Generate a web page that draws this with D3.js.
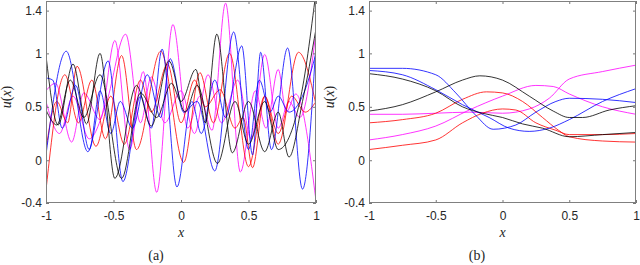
<!DOCTYPE html>
<html>
<head>
<meta charset="utf-8">
<script src="https://cdn.jsdelivr.net/npm/d3@7"></script>
<style>
  body{margin:0;background:#fff;}
  svg{display:block;}
  .tick text{font-family:"Liberation Sans",Arial,Helvetica,sans-serif;font-size:12px;fill:#262626;}
  .lab{font-family:"Liberation Serif","Times New Roman",serif;font-size:14px;fill:#262626;}
</style>
</head>
<body>
<script>
// tick values / labels
const xTicks = [-1,-0.5,0,0.5,1];
const xTickLabels = ["-1","-0.5","0","0.5","1"];
const yTicks = [-0.4,0,0.5,1,1.4];
const yTickLabels = ["-0.4","0","0.5","1","1.4"];

// panel (a): [x, u] at the turning points
const aBlack1 = [[-1,0.98],[-0.91,0.33],[-0.80,0.90],[-0.70,0.34],[-0.60,1.0],[-0.49,-0.17],[-0.33,0.70],[-0.22,0.32],[-0.09,0.93],[0.03,0.45],[0.12,0.70],[0.27,-0.03],[0.40,0.55],[0.50,0.15],[0.62,0.55],[0.72,0.10],[0.88,0.55],[1.0,1.58]];
const aBlack2 = [[-1,0.47],[-0.92,0.33],[-0.82,0.75],[-0.72,0.40],[-0.60,0.80],[-0.44,-0.17],[-0.30,0.63],[-0.18,0.40],[-0.07,0.72],[0.0,0.55],[0.11,0.85],[0.18,0.35],[0.265,1.18],[0.38,0.07],[0.50,0.55],[0.62,0.08],[0.72,0.45],[0.80,0.03],[0.90,0.55],[1.0,1.23]];
const aBlue1 = [[-1,0.05],[-0.85,1.02],[-0.69,0.08],[-0.54,0.93],[-0.43,-0.20],[-0.30,0.60],[-0.22,0.30],[-0.14,1.04],[-0.03,-0.25],[0.08,0.55],[0.15,0.25],[0.25,0.75],[0.33,0.40],[0.45,1.07],[0.53,0.05],[0.59,1.01],[0.67,0.10],[0.79,1.05],[0.90,-0.27],[1.0,1.10]];
const aBlue2 = [[-1,0.77],[-0.95,0.75],[-0.88,0.30],[-0.78,0.70],[-0.68,0.10],[-0.60,0.65],[-0.52,0.25],[-0.45,0.55],[-0.36,0.30],[-0.25,0.80],[-0.15,0.40],[-0.08,0.95],[0.02,0.45],[0.12,0.55],[0.25,-0.10],[0.39,1.20],[0.50,0.10],[0.58,0.75],[0.66,0.45],[0.72,0.60],[0.80,0.45],[0.90,0.60],[1.0,1.0]];
const aRed1 = [[-1,-0.28],[-0.86,0.80],[-0.76,0.35],[-0.66,0.75],[-0.56,0.20],[-0.44,0.98],[-0.33,0.10],[-0.15,1.02],[0.02,-0.02],[0.14,0.82],[0.24,0.35],[0.36,1.0],[0.50,-0.06],[0.62,0.60],[0.72,0.15],[0.87,1.01],[1.0,0.52]];
const aRed2 = [[-1,0.10],[-0.92,0.55],[-0.84,0.35],[-0.77,0.88],[-0.63,0.13],[-0.52,0.60],[-0.42,0.15],[-0.30,0.75],[-0.22,0.45],[-0.10,0.90],[0.0,0.35],[0.10,0.75],[0.18,0.50],[0.29,0.66],[0.40,0.30],[0.46,0.40],[0.53,-0.07],[0.62,0.60],[0.72,0.25],[0.82,0.60],[0.92,0.45],[1.0,0.55]];
const aMagenta1 = [[-1,0.65],[-0.93,0.72],[-0.81,0.17],[-0.72,0.63],[-0.60,0.38],[-0.49,1.12],[-0.38,0.10],[-0.28,0.83],[-0.18,-0.30],[-0.06,1.27],[0.05,0.30],[0.14,0.60],[0.23,0.28],[0.33,1.47],[0.44,-0.11],[0.55,0.65],[0.63,0.30],[0.72,0.85],[0.78,0.45],[0.85,0.62],[1.0,-0.38]];
const aMagenta2 = [[-1,0.55],[-0.90,0.25],[-0.80,0.60],[-0.68,0.20],[-0.55,0.55],[-0.41,1.18],[-0.30,0.35],[-0.22,0.78],[-0.12,0.35],[0.0,0.65],[0.10,0.25],[0.20,0.80],[0.30,0.35],[0.42,0.75],[0.52,0.20],[0.62,0.99],[0.72,0.30],[0.80,0.55],[0.88,0.40],[1.0,1.20]];

// panel (b)
const bBlack1 = [[-1,0.81],[-0.75,0.76],[-0.5,0.65],[-0.3,0.50],[-0.15,0.44],[0.0,0.40],[0.15,0.34],[0.3,0.30],[0.5,0.22],[0.75,0.24],[1.0,0.26]];
const bBlack2 = [[-1,0.46],[-0.75,0.52],[-0.5,0.64],[-0.3,0.75],[-0.17,0.79],[0.0,0.75],[0.2,0.60],[0.38,0.46],[0.5,0.40],[0.6,0.40],[0.8,0.47],[1.0,0.51]];
const bBlue1 = [[-1,0.86],[-0.75,0.86],[-0.5,0.80],[-0.35,0.63],[-0.2,0.42],[-0.07,0.29],[0.1,0.33],[0.25,0.45],[0.4,0.55],[0.5,0.58],[0.75,0.57],[1.0,0.54]];
const bBlue2 = [[-1,0.84],[-0.75,0.80],[-0.5,0.66],[-0.3,0.52],[-0.1,0.40],[0.05,0.30],[0.2,0.27],[0.35,0.30],[0.5,0.38],[0.75,0.55],[1.0,0.67]];
const bRed1 = [[-1,0.35],[-0.75,0.38],[-0.5,0.44],[-0.3,0.57],[-0.12,0.64],[0.0,0.63],[0.15,0.55],[0.3,0.40],[0.42,0.28],[0.5,0.22],[0.75,0.18],[1.0,0.17]];
const bRed2 = [[-1,0.10],[-0.75,0.14],[-0.5,0.19],[-0.3,0.35],[-0.15,0.44],[0.0,0.48],[0.1,0.47],[0.25,0.35],[0.4,0.28],[0.5,0.24],[0.75,0.24],[1.0,0.25]];
const bMagenta1 = [[-1,0.43],[-0.75,0.43],[-0.5,0.44],[-0.25,0.45],[0.0,0.44],[0.2,0.48],[0.35,0.58],[0.5,0.76],[0.75,0.83],[1.0,0.89]];
const bMagenta2 = [[-1,0.19],[-0.75,0.24],[-0.5,0.32],[-0.25,0.47],[0.0,0.60],[0.25,0.70],[0.38,0.69],[0.5,0.62],[0.75,0.50],[1.0,0.43]];

const W = 640, H = 265;
const svg = d3.select("body").append("svg")
  .attr("width",W)
  .attr("height",H);

function panel(id,left,right,caption,capX,lines){
  const top = 1, bottom = 203;
  const x = d3.scaleLinear().domain([-1,1]).range([left,right]);
  const y = d3.scaleLinear().domain([-0.4,1.49]).range([bottom,top]);
  const g = svg.append("g");

  g.append("clipPath").attr("id","clip"+id)
    .append("rect").attr("x",left).attr("y",top).attr("width",right-left).attr("height",bottom-top);

  const line = d3.line()
    .x(d=>x(d[0]))
    .y(d=>y(d[1]))
    .curve(d3.curveMonotoneX);

  g.append("g").attr("clip-path","url(#clip"+id+")")
    .selectAll("path")
    .data(lines)
    .join("path")
    .attr("d",d=>line(d.pts))
    .attr("fill","none")
    .attr("stroke",d=>d.color)
    .attr("stroke-width",0.8);

  // axes, ticks inward, mirrored on the other sides
  const axL = g.append("g").attr("transform",`translate(${left},0)`)
    .call(d3.axisLeft(y).tickValues(yTicks).tickFormat((d,i)=>yTickLabels[i]).tickSizeInner(-3).tickSizeOuter(0).tickPadding(4));
  const axR = g.append("g").attr("transform",`translate(${right},0)`)
    .call(d3.axisRight(y).tickValues(yTicks).tickFormat("").tickSizeInner(-3).tickSizeOuter(0));
  const axB = g.append("g").attr("transform",`translate(0,${bottom})`)
    .call(d3.axisBottom(x).tickValues(xTicks).tickFormat((d,i)=>xTickLabels[i]).tickSizeInner(-3).tickSizeOuter(0).tickPadding(8));
  const axT = g.append("g").attr("transform",`translate(0,${top})`)
    .call(d3.axisTop(x).tickValues(xTicks).tickFormat("").tickSizeInner(-3).tickSizeOuter(0));
  [axL,axR,axB,axT].forEach(a=>{
    a.select(".domain").remove();
    a.selectAll(".tick line").attr("stroke","#777");
  });

  g.append("rect")
    .attr("x",left+0.5).attr("y",top+0.5)
    .attr("width",right-left-1).attr("height",bottom-top-1)
    .attr("fill","none").attr("stroke","#808080").attr("stroke-width",1);

  g.append("text").attr("class","lab")
    .attr("x",(left+right)/2).attr("y",237)
    .attr("text-anchor","middle").style("font-style","italic")
    .text("x");

  const yl = g.append("text").attr("class","lab")
    .attr("transform",`translate(${left-35},97) rotate(-90)`)
    .attr("text-anchor","middle");
  yl.append("tspan").style("font-style","italic").text("u");
  yl.append("tspan").text("(");
  yl.append("tspan").style("font-style","italic").text("x");
  yl.append("tspan").text(")");

  g.append("text").attr("class","lab")
    .attr("x",capX).attr("y",260)
    .attr("text-anchor","middle")
    .text(caption);
}

panel("a",46,316,"(a)",156,[
  {color:"#ff00ff",pts:aMagenta1},{color:"#ff00ff",pts:aMagenta2},
  {color:"#ff0000",pts:aRed1},{color:"#ff0000",pts:aRed2},
  {color:"#0000ff",pts:aBlue1},{color:"#0000ff",pts:aBlue2},
  {color:"#000000",pts:aBlack1},{color:"#000000",pts:aBlack2}
]);
panel("b",369,636,"(b)",477,[
  {color:"#ff00ff",pts:bMagenta1},{color:"#ff00ff",pts:bMagenta2},
  {color:"#ff0000",pts:bRed1},{color:"#ff0000",pts:bRed2},
  {color:"#0000ff",pts:bBlue1},{color:"#0000ff",pts:bBlue2},
  {color:"#000000",pts:bBlack1},{color:"#000000",pts:bBlack2}
]);
</script>
</body>
</html>
